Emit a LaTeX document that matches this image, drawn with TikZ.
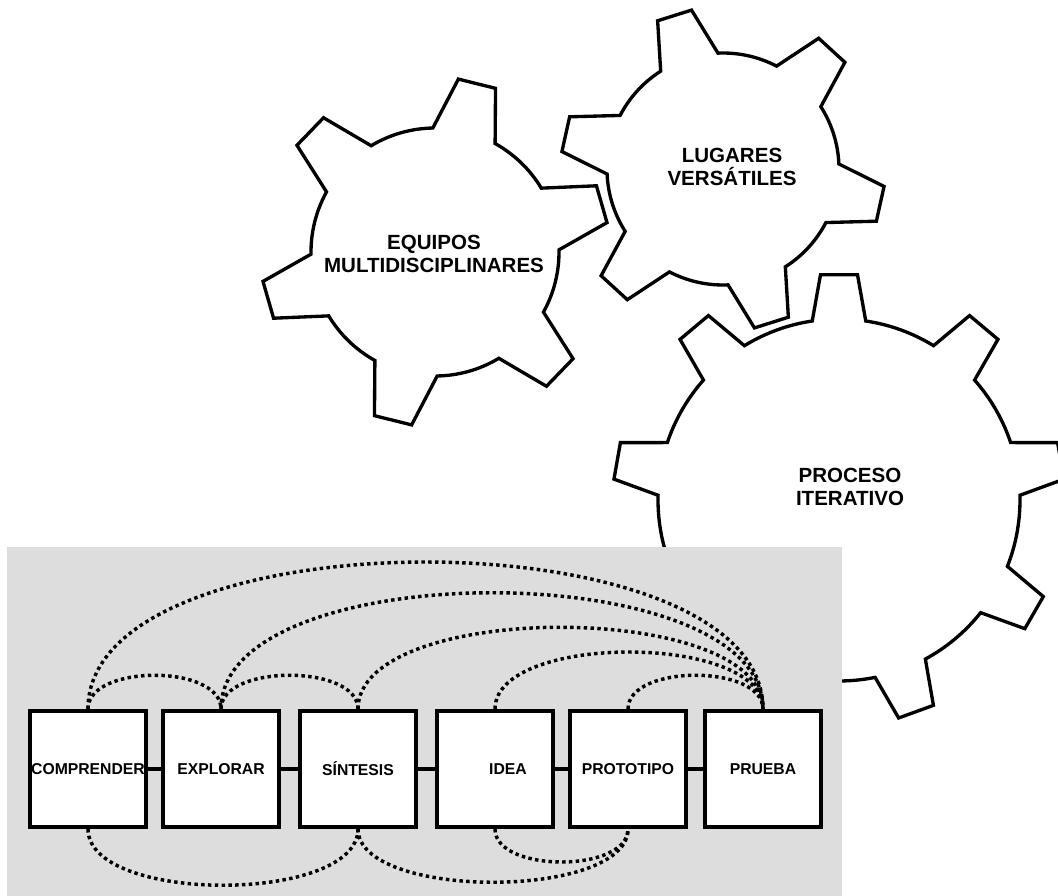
\documentclass[tikz,border=0pt]{standalone}
\usepackage{fontspec}
\setmainfont{Liberation Sans}
\definecolor{panelgray}{RGB}{221,221,221}
\tikzset{
  gearline/.style={line width=2.5pt, fill=white, line join=miter},
  geartext/.style={align=center, font=\bfseries\fontsize{15.4}{17.6}\selectfont},
  stage/.style={draw, line width=3pt, fill=white, minimum size=87pt, inner sep=0pt,
    font=\bfseries\fontsize{11.8}{14}\selectfont},
  link/.style={line width=3.5pt},
  iter/.style={line width=2.6pt, dash pattern=on 2.6pt off 2.5pt}
}
% center, root radius, tip radius, root half-angle, tip half-angle, teeth, first tooth
\newcommand{\gear}[7]{%
  \draw[gearline, shift={(#1)}] (#7-#4:#2)
    \foreach \k [evaluate=\k as \a using #7+(\k-1)*360/#6] in {1,...,#6}
      { -- (\a-#4:#2) -- (\a-#5:#3) -- (\a+#5:#3) -- (\a+#4:#2)
        arc[start angle=\a+#4, end angle=\a+360/#6-#4, radius=#2] } -- cycle;}
\begin{document}
\begin{tikzpicture}[x=0.75pt,y=-0.75pt]
      \useasboundingbox (0,0) rectangle (1058,896);
      \gear{839,500}{181}{226}{8.5}{4.7}{9}{30}
      \gear{435,252}{124}{174.5}{15}{6.3}{6}{44}
      \gear{723,169}{116}{162}{15}{6.3}{6}{12.5}
      \draw
        (434,254) node[geartext] (equipos){EQUIPOS\\MULTIDISCIPLINARES}
        (732,167) node[geartext] (lugares){LUGARES\\VERSÁTILES}
        (850,487) node[geartext] (proceso){PROCESO\\ITERATIVO};
      \fill[panelgray] (7,547) rectangle (842,896);
      \begin{scope}[iter]
        \draw (88,709) .. controls +(0,-196) and +(0,-196) .. (763,709);
        \draw (221,709) .. controls +(0,-155) and +(0,-155) .. (763,709);
        \draw (358,709) .. controls +(0,-109) and +(0,-109) .. (763,709);
        \draw (495,709) .. controls +(0,-76) and +(0,-76) .. (763,709);
        \draw (628,709) .. controls +(0,-45) and +(0,-45) .. (763,709);
        \draw (88,709) .. controls +(0,-45) and +(0,-45) .. (221,709);
        \draw (221,709) .. controls +(0,-45) and +(0,-45) .. (358,709);
        \draw (88,829) .. controls +(0,75) and +(0,75) .. (358,829);
        \draw (358,829) .. controls +(0,71) and +(0,71) .. (628,829);
        \draw (495,829) .. controls +(0,44) and +(0,44) .. (628,829);
      \end{scope}
      \draw
        (88,769) node[stage] (comprender){COMPRENDER}
        (221,769) node[stage] (explorar){EXPLORAR}
        (358,769) node[stage] (sintesis){SÍNTESIS}
        (495,769) node[stage] (idea){\hspace*{19.5pt}IDEA}
        (628,769) node[stage] (prototipo){PROTOTIPO}
        (763,769) node[stage] (prueba){PRUEBA};
      \begin{scope}[link]
        \draw (comprender) -- (explorar);
        \draw (explorar) -- (sintesis);
        \draw (sintesis) -- (idea);
        \draw (idea) -- (prototipo);
        \draw (prototipo) -- (prueba);
      \end{scope}
    \end{tikzpicture}
\end{document}
